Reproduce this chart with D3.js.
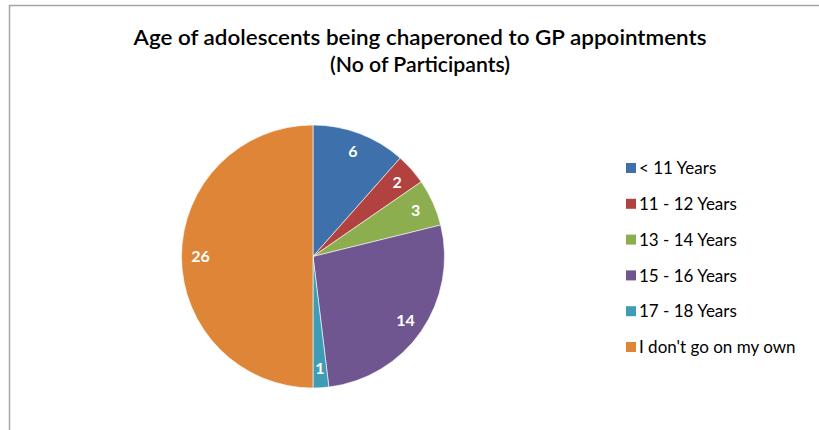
<!DOCTYPE html>
<html lang="en">
  <head>
    <meta charset="utf-8">
    <title>Age of adolescents being chaperoned</title>
    <style>
      body { margin: 0; background: white; }
      svg.chart { display: block; font-family: Lato, "Open Sans", sans-serif; }
    </style>
    <script src="https://cdn.jsdelivr.net/npm/d3@7"></script>
  </head>
  <body>
    <svg class="chart" width="819" height="430"></svg>
    <script>
// ---- data ----
var categories = ["< 11 Years", "11 - 12 Years", "13 - 14 Years", "15 - 16 Years", "17 - 18 Years", "I don't go on my own"];
var counts = [6, 2, 3, 14, 1, 26];
var colours = ["#3e70ac", "#b2423f", "#8cae4e", "#6f5690", "#3e9db4", "#de8538"];
var titleLines = ["Age of adolescents being chaperoned to GP appointments", "(No of Participants)"];

var svg = d3.select("svg.chart");
var cx = 313, cy = 256.5, radius = 131.5;

// frame (top and left edges visible in reference)
svg.append("path")
  .attr("d", "M9.5,430 V5.5 H819")
  .style("fill", "none")
  .style("stroke", "#a6a6a6")
  .style("stroke-width", 1.5);

// title
svg.selectAll("text.title").data(titleLines).enter()
  .append("text")
  .attr("class", "title")
  .attr("x", 420)
  .attr("y", function(d, i) { return 45 + i * 27; })
  .attr("text-anchor", "middle")
  .attr("textLength", function(d, i) { return i == 0 ? 573 : 180; })
  .attr("lengthAdjust", "spacingAndGlyphs")
  .style("font-size", "21px")
  .style("font-weight", "600")
  .style("fill", "#000")
  .text(function(d) { return d; });

var colour = d3.scaleOrdinal().domain(categories).range(colours);
var pie = d3.pie().sort(null).value(function(d) { return d.v; });
var arcs = pie(categories.map(function(c, i) { return {c: c, v: counts[i]}; }));
var arc = d3.arc().innerRadius(0).outerRadius(radius);
var labelArc = d3.arc().innerRadius(radius * 0.855).outerRadius(radius * 0.855);

var g = svg.append("g").attr("transform", "translate(" + cx + "," + cy + ")");
g.selectAll("path.slice").data(arcs).enter()
  .append("path")
  .attr("class", "slice")
  .attr("d", arc)
  .style("fill", function(d) { return colour(d.data.c); })
  .style("stroke", "white")
  .style("stroke-width", 0.6);

g.selectAll("text.val").data(arcs).enter()
  .append("text")
  .attr("class", "val")
  .attr("transform", function(d) { return "translate(" + labelArc.centroid(d) + ")"; })
  .attr("text-anchor", "middle")
  .attr("dy", "0.36em")
  .style("font-size", "16px")
  .style("font-weight", "bold")
  .style("fill", "white")
  .text(function(d) { return d.data.v; });

// legend
var legend = svg.append("g").attr("transform", "translate(626,168)");
var rows = legend.selectAll("g.row").data(categories).enter()
  .append("g")
  .attr("class", "row")
  .attr("transform", function(d, i) { return "translate(0," + (i * 35.8) + ")"; });
rows.append("rect")
  .attr("x", 0).attr("y", -5)
  .attr("width", 10).attr("height", 10)
  .style("fill", function(d) { return colour(d); });
rows.append("text")
  .attr("x", 13)
  .attr("dy", "0.36em")
  .style("font-size", "17px")
  .style("fill", "#000")
  .text(function(d) { return d; });
    </script>
  </body>
</html>
